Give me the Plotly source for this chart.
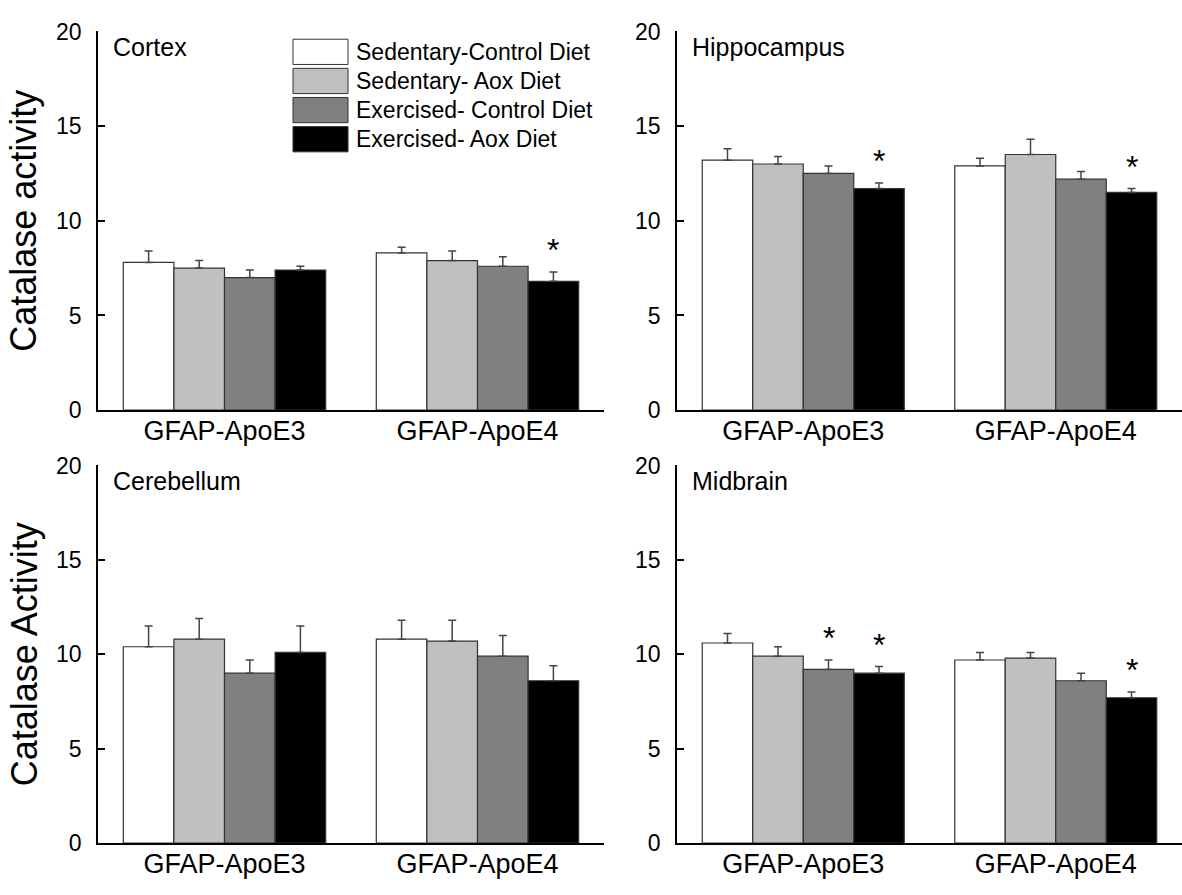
import plotly.graph_objects as go

W, H = 1182, 895

groups = ["GFAP-ApoE3", "GFAP-ApoE4"]
series = ["Sedentary-Control Diet", "Sedentary- Aox Diet",
          "Exercised- Control Diet", "Exercised- Aox Diet"]
colors = ["#ffffff", "#c0c0c0", "#808080", "#000000"]

# values per series: [ApoE3, ApoE4]
cortex_vals = [[7.8, 8.3], [7.5, 7.9], [7.0, 7.6], [7.4, 6.8]]
cortex_errs = [[0.6, 0.3], [0.4, 0.5], [0.4, 0.5], [0.2, 0.5]]
cortex_stars = [(1, 3)]

hippo_vals = [[13.2, 12.9], [13.0, 13.5], [12.5, 12.2], [11.7, 11.5]]
hippo_errs = [[0.6, 0.4], [0.4, 0.8], [0.4, 0.4], [0.3, 0.2]]
hippo_stars = [(0, 3), (1, 3)]

cereb_vals = [[10.4, 10.8], [10.8, 10.7], [9.0, 9.9], [10.1, 8.6]]
cereb_errs = [[1.1, 1.0], [1.1, 1.1], [0.7, 1.1], [1.4, 0.8]]
cereb_stars = []

midbr_vals = [[10.6, 9.7], [9.9, 9.8], [9.2, 8.6], [9.0, 7.7]]
midbr_errs = [[0.5, 0.4], [0.5, 0.3], [0.5, 0.4], [0.35, 0.3]]
midbr_stars = [(0, 2), (0, 3), (1, 3)]

panels = [
    dict(label="Cortex", vals=cortex_vals, errs=cortex_errs, stars=cortex_stars,
         xpx=(98, 604), ypx=(19, 409), ytitle="Catalase activity"),
    dict(label="Hippocampus", vals=hippo_vals, errs=hippo_errs, stars=hippo_stars,
         xpx=(677, 1182), ypx=(19, 409), ytitle=None),
    dict(label="Cerebellum", vals=cereb_vals, errs=cereb_errs, stars=cereb_stars,
         xpx=(98, 604), ypx=(466, 855), ytitle="Catalase Activity"),
    dict(label="Midbrain", vals=midbr_vals, errs=midbr_errs, stars=midbr_stars,
         xpx=(677, 1182), ypx=(466, 855), ytitle=None),
]

FONT = "Arial, Liberation Sans, sans-serif"


def fx(p):
    return p / W


def fy(p):
    return 1 - p / H


fig = go.Figure()
layout = dict(
    width=W, height=H, margin=dict(l=0, r=0, t=0, b=0),
    paper_bgcolor="white", plot_bgcolor="white",
    barmode="group", bargap=0.2, bargroupgap=0,
    showlegend=False, font=dict(family=FONT, color="black"),
)
annotations = []
shapes = []

for k, p in enumerate(panels, start=1):
    xa = "x" if k == 1 else f"x{k}"
    ya = "y" if k == 1 else f"y{k}"
    for si, s in enumerate(series):
        fig.add_trace(go.Bar(
            x=groups, y=p["vals"][si], name=s, xaxis=xa, yaxis=ya,
            offsetgroup=str(si),
            marker=dict(color=colors[si], line=dict(color="#333333", width=1.2)),
            error_y=dict(type="data", symmetric=False, array=p["errs"][si],
                         arrayminus=[0, 0], color="#444444", thickness=1.5, width=4),
        ))
    x0, x1 = p["xpx"]
    y0, y1 = p["ypx"]
    key = "" if k == 1 else str(k)
    layout["xaxis" + key] = dict(
        domain=[fx(x0), fx(x1)], anchor=ya, type="category",
        range=[-0.5, 1.5], showline=True, linecolor="black", linewidth=1.5,
        ticks="", showgrid=False, zeroline=False, ticklabelstandoff=-4,
        tickfont=dict(size=27, family=FONT, color="black"),
    )
    layout["yaxis" + key] = dict(
        domain=[fy(y1), fy(y0)], anchor=xa, range=[0, 20], dtick=5,
        ticks="inside", ticklen=7, tickwidth=1.5, tickcolor="black",
        showline=True, linecolor="black", linewidth=1.5,
        showgrid=False, zeroline=False, ticklabelstandoff=10,
        tickfont=dict(size=23, family=FONT, color="black"),
    )
    # panel label
    annotations.append(dict(
        text=p["label"], xref="paper", yref="paper", x=fx(x0 + 13), y=fy(y0 + 0),
        xanchor="left", yanchor="top", showarrow=False,
        font=dict(size=25, family=FONT, color="black"),
    ))
    if p["ytitle"]:
        annotations.append(dict(
            text=p["ytitle"], xref="paper", yref="paper", x=fx(24), y=fy((y0 + y1) / 2),
            xanchor="center", yanchor="middle", textangle=-90, showarrow=False,
            font=dict(size=36, family=FONT, color="black"),
        ))
    # significance stars
    for gi, si in p["stars"]:
        top = p["vals"][si][gi] + p["errs"][si][gi]
        annotations.append(dict(
            text="*", xref=xa, yref=ya, x=gi + (si - 1.5) * 0.2, y=top,
            xanchor="center", yanchor="bottom", yshift=2, showarrow=False,
            font=dict(size=32, family=FONT, color="black"),
        ))

# custom legend (large swatches as in the original)
for i, (s, c) in enumerate(zip(series, colors)):
    ytop = 27 + i * 30
    shapes.append(dict(type="rect", xref="paper", yref="paper",
                       x0=fx(293), x1=fx(348), y0=fy(ytop + 26), y1=fy(ytop),
                       fillcolor=c, line=dict(color="#333333", width=1)))
    annotations.append(dict(
        text=s, xref="paper", yref="paper", x=fx(354), y=fy(ytop + 13),
        xanchor="left", yanchor="middle", showarrow=False,
        font=dict(size=23, family=FONT, color="black"),
    ))

layout["annotations"] = annotations
layout["shapes"] = shapes
fig.update_layout(**layout)
fig.write_html(
    "out.html",
    config={"displayModeBar": False},
    post_script="document.body.style.margin='0';document.body.style.overflow='hidden';",
)
